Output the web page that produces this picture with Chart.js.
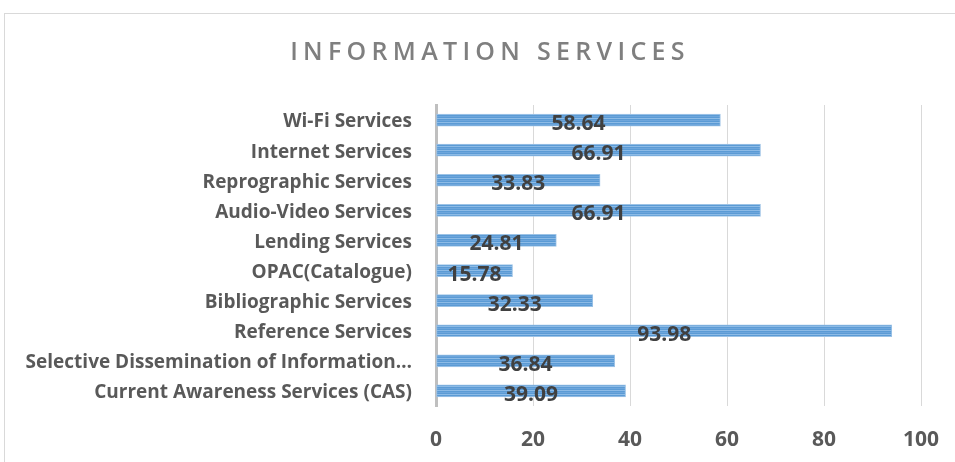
<!DOCTYPE html>
<html>
<head>
<meta charset="utf-8">
<script src="https://cdn.jsdelivr.net/npm/chart.js@4"></script>
<style>
  html, body { margin: 0; padding: 0; background: #fff; }
  #wrap { width: 955px; height: 462px; position: relative; }
</style>
</head>
<body>
<div id="wrap"><canvas id="chart" width="955" height="462"></canvas></div>
<script>
const categories = [
    'Wi-Fi Services',
    'Internet Services',
    'Reprographic Services',
    'Audio-Video Services',
    'Lending Services',
    'OPAC(Catalogue)',
    'Bibliographic Services',
    'Reference Services',
    'Selective Dissemination of Information…',
    'Current Awareness Services (CAS)'
];
const percentages = [58.64, 66.91, 33.83, 66.91, 24.81, 15.78, 32.33, 93.98, 36.84, 39.09];
const xTicks = [0, 20, 40, 60, 80, 100];
const chartTitle = 'INFORMATION SERVICES';

const FONT = '"Open Sans", sans-serif';

// striped fill like the office-style bars
const makeStripes = () => {
    const c = document.createElement('canvas');
    c.width = 4; c.height = 4;
    const g = c.getContext('2d');
    const rows = ['#6ea6dc', '#5b9bd5', '#8dbbe6', '#5b9bd5'];
    rows.forEach((col, i) => { g.fillStyle = col; g.fillRect(0, i, 4, 1); });
    return g.createPattern(c, 'repeat');
};

const frameAndTitle = {
    id: 'frameAndTitle',
    beforeDraw(chart) {
        const ctx = chart.ctx;
        ctx.save();
        ctx.strokeStyle = '#d9d9d9';
        ctx.lineWidth = 1;
        ctx.strokeRect(4.5, 13.5, 1000, 520);
        ctx.fillStyle = '#7f7f7f';
        ctx.font = '600 25px ' + FONT;
        ctx.letterSpacing = '5.3px';
        ctx.textAlign = 'center';
        ctx.textBaseline = 'middle';
        ctx.fillText(chartTitle, 490, 53);
        ctx.restore();
    }
};

const valueLabels = {
    id: 'valueLabels',
    afterDatasetsDraw(chart) {
        const ctx = chart.ctx;
        const meta = chart.getDatasetMeta(0);
        ctx.save();
        ctx.fillStyle = '#404040';
        ctx.font = 'bold 21px ' + FONT;
        ctx.textAlign = 'center';
        ctx.textBaseline = 'middle';
        meta.data.forEach((bar, i) => {
            const mid = (bar.x + bar.base) / 2;
            ctx.fillText(percentages[i].toFixed(2), mid, bar.y + 4);
        });
        ctx.restore();
    }
};

const ctx = document.getElementById('chart').getContext('2d');
const myChart = new Chart(ctx, {
    type: 'bar',
    data: {
        labels: categories,
        datasets: [{
            data: percentages,
            backgroundColor: makeStripes(),
            borderColor: '#9dc3e6',
            borderWidth: 1,
            borderSkipped: false,
            barThickness: 12
        }]
    },
    options: {
        indexAxis: 'y',
        responsive: false,
        animation: false,
        layout: { padding: { top: 105, right: 34, left: 0, bottom: 0 } },
        scales: {
            x: {
                min: 0,
                max: 100,
                afterBuildTicks: (scale) => { scale.ticks = xTicks.map(v => ({ value: v })); },
                afterFit: (scale) => {
                    scale.height = 56;
                    scale.paddingLeft = 0;
                    scale.paddingRight = 0;
                },
                grid: { color: '#d9d9d9', lineWidth: 1, drawTicks: false },
                border: { display: false },
                ticks: {
                    padding: 21,
                    color: '#595959',
                    font: { family: FONT, size: 21, weight: 'bold' }
                }
            },
            y: {
                afterFit: (scale) => { scale.width = 436; },
                grid: { display: false, drawTicks: false },
                border: { color: '#bfbfbf', width: 3 },
                ticks: {
                    padding: 24,
                    labelOffset: 2,
                    color: '#595959',
                    autoSkip: false,
                    font: { family: FONT, size: 19, weight: 'bold' }
                }
            }
        },
        plugins: {
            legend: { display: false },
            title: { display: false },
            tooltip: { enabled: false }
        }
    },
    plugins: [frameAndTitle, valueLabels]
});
</script>
</body>
</html>
